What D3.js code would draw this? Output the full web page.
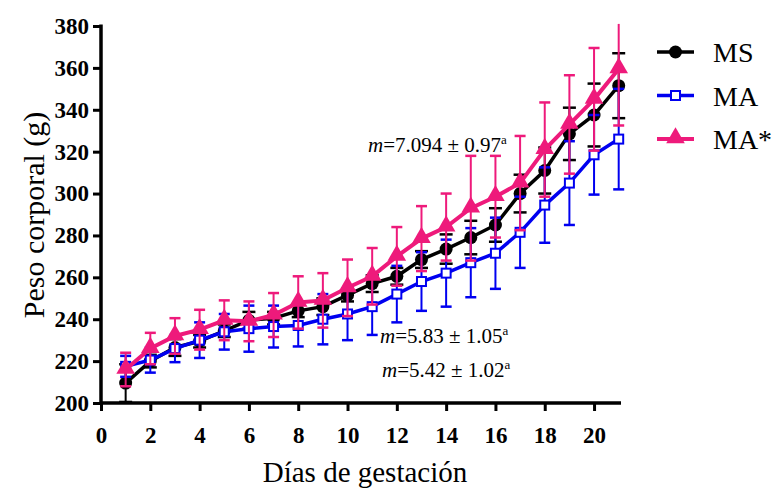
<!DOCTYPE html>
<html>
<head>
<meta charset="utf-8">
<script src="https://cdn.jsdelivr.net/npm/d3@7"></script>
<style>
  body { margin: 0; background: #fff; }
  text { font-family: "Liberation Serif", "Times New Roman", serif; }
</style>
</head>
<body>
<script>
// days of gestation
const days = d3.range(1, 22);

// mean body weight (g) per group
const ms_mean = [209.5, 220, 226.5, 229.5, 234.5, 239.5, 240.5, 244, 246, 251.5, 257, 260.5, 268.5, 273.5, 279, 285, 300, 311, 328.5, 337.5, 351.5];
const ma_mean = [217.5, 220.5, 226, 230, 234, 235.5, 236.5, 237, 240, 242.5, 246, 252, 258, 262, 267, 271.5, 281.5, 294.5, 305, 318.5, 326];
const mastar_mean = [216, 226, 232, 235, 239.5, 239, 242, 248, 249, 255, 260.5, 270, 278.5, 284, 293, 298.5, 305, 321, 333, 345, 359.5];

// error bars (± SD)
const ms_err = [9, 3, 4, 3, 3, 4, 3, 3, 4, 3, 4, 4, 4, 7, 8, 8, 9, 11, 12.5, 15, 15.5];
const ma_err = [5, 6, 6.5, 8.5, 8.5, 11, 10, 10, 12, 12.5, 13.5, 13.5, 14, 16, 16.5, 17, 17, 18, 20, 19, 24];
const mastar_err = [8, 7.5, 8.5, 9.5, 9.5, 9.5, 10.5, 12.5, 13, 13.5, 13.5, 14, 15.5, 16, 25, 19.5, 22.5, 22.5, 23.5, 24.5, 27];

const xTicks = d3.range(0, 21, 2);
const yTicks = d3.range(200, 381, 20);

const series = [
  { name: "MS", mean: ms_mean, err: ms_err, color: "#000000", marker: "circle", lw: 3.5 },
  { name: "MA", mean: ma_mean, err: ma_err, color: "#0000f0", marker: "square", lw: 3.5 },
  { name: "MA*", mean: mastar_mean, err: mastar_err, color: "#ee1a7b", marker: "triangle", lw: 4 }
];

const width = 774, height = 491;
const svg = d3.select("body").append("svg")
  .attr("width", width)
  .attr("height", height);

// scales
const x = d3.scaleLinear().domain([0, 21]).range([101, 618.7]);
const y = d3.scaleLinear().domain([200, 380]).range([403, 26]);

// axes
const xAxis = svg.append("g")
  .attr("transform", "translate(0,403)")
  .call(d3.axisBottom(x).tickValues(xTicks).tickSize(8).tickPadding(16).tickFormat(d3.format("d")));
const yAxis = svg.append("g")
  .attr("transform", "translate(101,0)")
  .call(d3.axisLeft(y).tickValues(yTicks).tickSize(8).tickPadding(4).tickFormat(d3.format("d")));

[xAxis, yAxis].forEach(ax => {
  ax.select(".domain").attr("stroke", "#000").attr("stroke-width", 3.5);
  ax.selectAll(".tick line").attr("stroke", "#000").attr("stroke-width", 3);
  ax.selectAll(".tick text")
    .attr("fill", "#000")
    .style("font-family", "'Liberation Serif', serif")
    .style("font-size", "23px")
    .style("font-weight", "bold");
});
// extend the axis lines to the plot ends
xAxis.select(".domain").attr("d", "M101,0H621");
yAxis.select(".domain").attr("d", "M0,404.5V24.5");

// axis titles
svg.append("text")
  .attr("x", 365)
  .attr("y", 482)
  .attr("text-anchor", "middle")
  .style("font-size", "29px")
  .text("Días de gestación");

svg.append("text")
  .attr("transform", "translate(44,215) rotate(-90)")
  .attr("text-anchor", "middle")
  .style("font-size", "30px")
  .text("Peso corporal (g)");

// marker drawing helper
function drawMarker(g, type, color, cx, cy) {
  if (type === "circle") {
    g.append("circle").attr("cx", cx).attr("cy", cy).attr("r", 6.5).attr("fill", color);
  } else if (type === "square") {
    g.append("rect").attr("x", cx - 4.5).attr("y", cy - 4.5).attr("width", 9).attr("height", 9)
      .attr("fill", "#fff").attr("stroke", color).attr("stroke-width", 2);
  } else {
    g.append("path")
      .attr("d", d3.symbol().type(d3.symbolTriangle).size(150)())
      .attr("transform", `translate(${cx},${cy - 1})`)
      .attr("fill", color);
  }
}

const line = d3.line().x((d, i) => x(days[i])).y(d => y(d));

series.forEach(s => {
  const g = svg.append("g");
  // error bars
  s.mean.forEach((m, i) => {
    const cx = x(days[i]);
    const lo = y(m - s.err[i]), hi = y(Math.min(m + s.err[i], 381));
    g.append("line").attr("x1", cx).attr("x2", cx).attr("y1", lo).attr("y2", hi)
      .attr("stroke", s.color).attr("stroke-width", 2);
    const capW = s.name === "MS" ? 6.5 : 5.5;
    g.append("line").attr("x1", cx - capW).attr("x2", cx + capW).attr("y1", lo).attr("y2", lo)
      .attr("stroke", s.color).attr("stroke-width", 2.5);
    if (m + s.err[i] <= 380) {
      g.append("line").attr("x1", cx - capW).attr("x2", cx + capW).attr("y1", hi).attr("y2", hi)
        .attr("stroke", s.color).attr("stroke-width", 2.5);
    }
  });
  // connecting line
  g.append("path")
    .attr("d", line(s.mean))
    .attr("fill", "none")
    .attr("stroke", s.color)
    .attr("stroke-width", s.lw);
  // markers
  s.mean.forEach((m, i) => drawMarker(g, s.marker, s.color, x(days[i]), y(m)));
});

// legend
const legend = svg.append("g");
series.forEach((s, i) => {
  const ly = 52 + i * 43.5;
  legend.append("line").attr("x1", 657).attr("x2", 694).attr("y1", ly).attr("y2", ly)
    .attr("stroke", s.color).attr("stroke-width", s.lw);
  drawMarker(legend, s.marker, s.color, 675.5, ly);
  legend.append("text")
    .attr("x", 713)
    .attr("y", ly + 10)
    .style("font-size", "28px")
    .text(s.name);
});

// slope annotations
const notes = [
  { x: 368, y: 152, val: "=7.094 ± 0.97" },
  { x: 380, y: 343, val: "=5.83 ± 1.05" },
  { x: 382, y: 377, val: "=5.42 ± 1.02" }
];
notes.forEach(n => {
  const t = svg.append("text")
    .attr("x", n.x)
    .attr("y", n.y)
    .style("font-size", "21px");
  t.append("tspan").style("font-style", "italic").text("m");
  t.append("tspan").text(n.val);
  t.append("tspan").attr("dy", -8).style("font-size", "13px").text("a");
});
</script>
</body>
</html>
